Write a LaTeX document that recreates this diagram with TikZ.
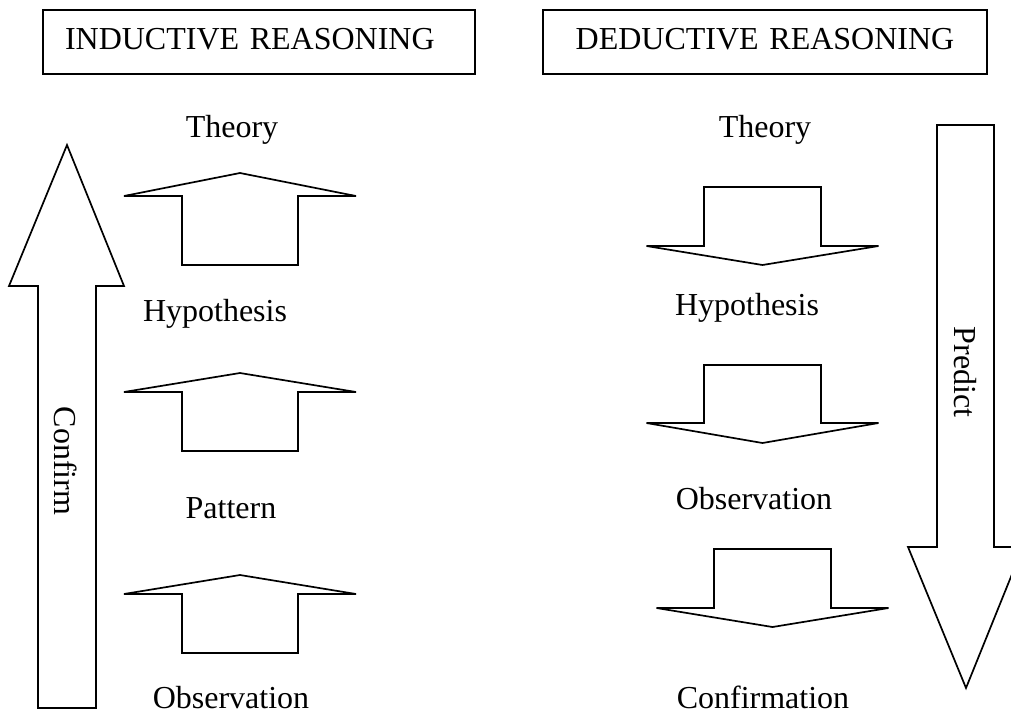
\documentclass[tikz,border=0pt]{standalone}
\usepackage{fontspec}
\setmainfont{Liberation Serif}
\begin{document}
\begin{tikzpicture}[x=1pt,y=-1pt,
  shapeline/.style={draw=black, line width=1.7pt, line join=miter, fill=white},
  lbl/.style={font=\fontsize{32}{38}\selectfont, anchor=base, inner sep=0pt},
  rotlbl/.style={font=\fontsize{32}{38}\selectfont, rotate=-90, inner sep=0pt},
  titlebox/.style={draw=black, line width=1.7pt, font=\fontsize{32}{38}\selectfont,
    inner xsep=22pt, inner ysep=0pt, minimum height=64pt, text height=22pt, text depth=7pt}
]
\useasboundingbox (0,0) rectangle (1011,716);
\clip (0,0) rectangle (1011,716);

% title boxes
\node[titlebox, text width=388pt, align=left] (ind) at (259,42) {INDUCTIVE REASONING};
\node[titlebox, text width=400pt, align=center] (ded) at (765,42) {DEDUCTIVE REASONING};

% big left arrow (Confirm)
\draw[shapeline] (67,145) -- (124,286) -- (96,286) -- (96,708) -- (38,708) -- (38,286) -- (9,286) -- cycle;
\node[rotlbl] (confirm) at (66,461) {Confirm};

% big right arrow (Predict)
\draw[shapeline] (937,125) -- (994,125) -- (994,547) -- (1023,547) -- (966,688) -- (908,547) -- (937,547) -- cycle;
\node[rotlbl] (predict) at (965,372) {Predict};

% left small up arrows
\foreach \t/\w/\b in {173/196/265, 373/392/451, 575/594/653}{
  \draw[shapeline] (240,\t) -- (356,\w) -- (298,\w) -- (298,\b) -- (182,\b) -- (182,\w) -- (124,\w) -- cycle;
}

% right small down arrows
\foreach \c/\t/\w/\b in {762.5/187/246/265, 762.5/365/423/443, 772.5/549/608/627}{
  \draw[shapeline] (\c-58.5,\t) -- (\c+58.5,\t) -- (\c+58.5,\w) -- (\c+116,\w) -- (\c,\b) -- (\c-116,\w) -- (\c-58.5,\w) -- cycle;
}

% left labels
\node[lbl] (ltheory) at (232,137) {Theory};
\node[lbl] (lhyp) at (215,321) {Hypothesis};
\node[lbl] (lpat) at (231,518) {Pattern};
\node[lbl] (lobs) at (231,708) {Observation};

% right labels
\node[lbl] (rtheory) at (765,137) {Theory};
\node[lbl] (rhyp) at (747,315) {Hypothesis};
\node[lbl] (robs) at (754,509) {Observation};
\node[lbl] (rconf) at (763,708) {Confirmation};
\end{tikzpicture}
\end{document}
